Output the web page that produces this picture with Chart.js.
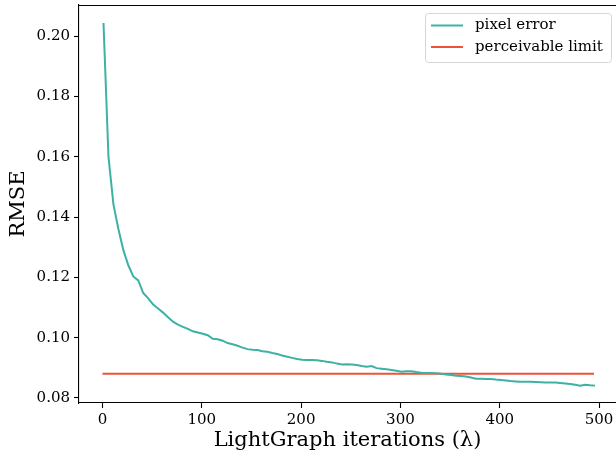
<!DOCTYPE html>
<html>
<head>
<meta charset="utf-8">
<script src="https://cdn.jsdelivr.net/npm/chart.js@4"></script>
<style>
  html, body { margin: 0; padding: 0; background: #fff; }
  #wrap { width: 616px; height: 456px; }
</style>
</head>
<body>
<div id="wrap"><canvas id="c" width="616" height="456"></canvas></div>
<script>
const iterations = [1,6,11,16,21,26,31,36,41,46,51,56,61,66,71,76,81,86,91,96,
  101,106,111,116,121,126,131,136,141,146,151,156,161,166,171,176,181,186,191,196,
  201,206,211,216,221,226,231,236,241,246,251,256,261,266,271,276,281,286,291,296,
  301,306,311,316,321,326,331,336,341,346,351,356,361,366,371,376,381,386,391,396,
  401,406,411,416,421,426,431,436,441,446,451,456,461,466,471,476,481,486,491,496];
const pixelError = [0.2043,0.1600,0.1442,0.1360,0.1290,0.1240,0.1203,0.1190,0.1148,0.1130,
  0.1110,0.1097,0.1083,0.1068,0.1053,0.1043,0.1036,0.1029,0.1021,0.1017,
  0.1013,0.1008,0.0996,0.0995,0.0990,0.0982,0.0978,0.0973,0.0967,0.0962,
  0.0960,0.0959,0.0955,0.0953,0.0949,0.0946,0.0941,0.0937,0.0933,0.0929,
  0.0927,0.0926,0.0926,0.0925,0.0923,0.0920,0.0918,0.0914,0.0911,0.0912,
  0.0911,0.0909,0.0906,0.0904,0.0906,0.0899,0.0897,0.0895,0.0893,0.0890,
  0.0887,0.0889,0.0889,0.0886,0.0884,0.0883,0.0883,0.0882,0.0880,0.0878,
  0.0876,0.0874,0.0873,0.0871,0.0868,0.0864,0.0864,0.0863,0.0863,0.0861,
  0.0860,0.0858,0.0856,0.0855,0.0854,0.0854,0.0854,0.0853,0.0852,0.0851,
  0.0851,0.0851,0.0850,0.0848,0.0846,0.0844,0.0841,0.0844,0.0842,0.0841];
const limitX = [0, 495];
const limitValue = [0.088, 0.088];
const xTicks = [0, 100, 200, 300, 400, 500];
const yTicks = [0.08, 0.10, 0.12, 0.14, 0.16, 0.18, 0.20];
const seriesLabels = ['pixel error', 'perceivable limit'];
const xTitle = 'LightGraph iterations (λ)';
const yTitle = 'RMSE';

const TEAL = '#3cb2a2';
const RED = '#ee5239';
const FONT = "'DejaVu Serif', serif";

const topSpine = {
  id: 'topSpine',
  afterDraw(chart) {
    const {ctx, chartArea} = chart;
    ctx.save();
    ctx.strokeStyle = '#000';
    ctx.lineWidth = 1.1;
    ctx.beginPath();
    ctx.moveTo(chartArea.left, chartArea.top + 0.5);
    ctx.lineTo(chartArea.right, chartArea.top + 0.5);
    ctx.stroke();
    ctx.restore();
  }
};

const boxLegend = {
  id: 'boxLegend',
  afterDraw(chart) {
    const {ctx} = chart;
    const x = 425.5, y = 13.5, w = 186, h = 49, r = 3;
    ctx.save();
    ctx.beginPath();
    ctx.moveTo(x + r, y);
    ctx.lineTo(x + w - r, y);
    ctx.arcTo(x + w, y, x + w, y + r, r);
    ctx.lineTo(x + w, y + h - r);
    ctx.arcTo(x + w, y + h, x + w - r, y + h, r);
    ctx.lineTo(x + r, y + h);
    ctx.arcTo(x, y + h, x, y + h - r, r);
    ctx.lineTo(x, y + r);
    ctx.arcTo(x, y, x + r, y, r);
    ctx.closePath();
    ctx.fillStyle = 'rgba(255,255,255,0.8)';
    ctx.fill();
    ctx.strokeStyle = '#d6d6d6';
    ctx.lineWidth = 1;
    ctx.stroke();
    const rows = [25.5, 47];
    chart.data.datasets.forEach((ds, i) => {
      ctx.strokeStyle = ds.borderColor;
      ctx.lineWidth = 2;
      ctx.beginPath();
      ctx.moveTo(431, rows[i]);
      ctx.lineTo(463, rows[i]);
      ctx.stroke();
      ctx.fillStyle = '#000';
      ctx.font = "15px " + FONT;
      ctx.textBaseline = 'middle';
      ctx.textAlign = 'left';
      ctx.fillText(ds.label, 475, rows[i]);
    });
    ctx.restore();
  }
};

new Chart(document.getElementById('c'), {
  type: 'line',
  data: {
    datasets: [
      {
        label: seriesLabels[0],
        data: iterations.map((v, i) => ({x: v, y: pixelError[i]})),
        borderColor: TEAL,
        borderWidth: 2,
        pointRadius: 0,
        tension: 0,
        fill: false
      },
      {
        label: seriesLabels[1],
        data: limitX.map((v, i) => ({x: v, y: limitValue[i]})),
        borderColor: RED,
        borderWidth: 2,
        pointRadius: 0,
        tension: 0,
        fill: false
      }
    ]
  },
  options: {
    responsive: false,
    animation: false,
    events: [],
    layout: { padding: { top: 5, right: 0, left: 0, bottom: 0 } },
    plugins: { legend: { display: false }, tooltip: { enabled: false } },
    scales: {
      x: {
        type: 'linear',
        min: -23.67,
        max: 517.1,
        afterBuildTicks(scale) { scale.ticks = xTicks.map(v => ({value: v})); },
        afterFit(scale) { scale.height = 53; scale.paddingLeft = 0; scale.paddingRight = 0; },
        ticks: {
          color: '#000',
          font: { family: FONT, size: 15 },
          padding: 3,
          maxRotation: 0,
          autoSkip: false,
          callback: v => String(v)
        },
        grid: { drawOnChartArea: false, drawTicks: true, tickLength: 5, tickWidth: 1.1, tickColor: '#000' },
        border: { display: true, color: '#000', width: 1.1 },
        title: {
          display: true,
          text: xTitle,
          color: '#000',
          font: { family: FONT, size: 21, lineHeight: 1.2 },
          padding: { top: 0, bottom: 2.5 }
        }
      },
      y: {
        type: 'linear',
        min: 0.07834,
        max: 0.21028,
        afterBuildTicks(scale) { scale.ticks = yTicks.map(v => ({value: v})); },
        afterFit(scale) { scale.width = 79; scale.paddingTop = 0; scale.paddingBottom = 0; },
        ticks: {
          color: '#000',
          font: { family: FONT, size: 15 },
          padding: 4,
          autoSkip: false,
          callback: v => Number(v).toFixed(2)
        },
        grid: { drawOnChartArea: false, drawTicks: true, tickLength: 5, tickWidth: 1.1, tickColor: '#000' },
        border: { display: true, color: '#000', width: 1.1 },
        title: {
          display: true,
          text: yTitle,
          color: '#000',
          font: { family: FONT, size: 21, lineHeight: 1.2 },
          padding: { top: 6.4, bottom: 0 }
        }
      }
    }
  },
  plugins: [topSpine, boxLegend]
});
</script>
</body>
</html>
